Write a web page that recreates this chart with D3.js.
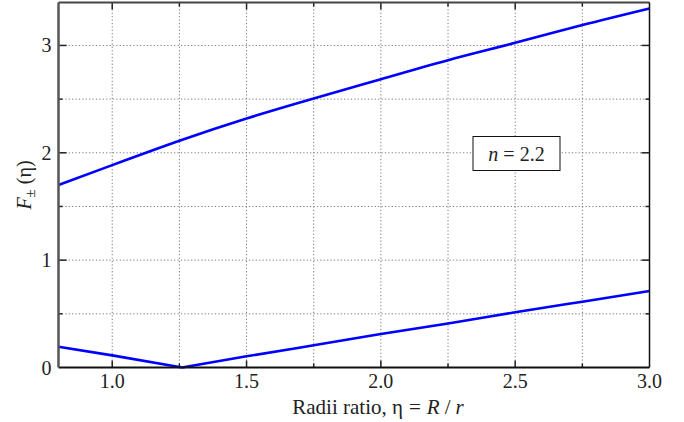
<!DOCTYPE html>
<html lang="en">
<head>
<meta charset="UTF-8">
<title>F± (η) vs radii ratio</title>
<style>
    body { margin: 0; background: #fff; }
    svg text { font-family: "Liberation Serif", Tinos, "Times New Roman", "DejaVu Serif", serif; }
    .grid line { stroke: #777; stroke-width: 1; stroke-dasharray: 1.2 2.2; }
    .tick-label { font-size: 20px; fill: #222; }
    .curve { fill: none; stroke: #0000ff; stroke-width: 2.6px; }
</style>
</head>
<body>
<svg width="684" height="422"></svg>
<script src="https://d3js.org/d3.v7.min.js"></script>
<script>
    // values
    const etaUpper = [0.8, 1.0, 1.25, 1.5, 1.75, 2.0, 2.25, 2.5, 2.75, 3.0];
    const fPlus    = [1.70, 1.885, 2.112, 2.32, 2.506, 2.686, 2.863, 3.024, 3.19, 3.345];

    const etaLower = [0.8, 1.0, 1.26, 1.5, 1.75, 2.0, 2.25, 2.5, 2.75, 3.0];
    const fMinus   = [0.194, 0.113, 0.0, 0.104, 0.207, 0.312, 0.41, 0.514, 0.613, 0.712];

    const xTickLabels = [1.0, 1.5, 2.0, 2.5, 3.0];
    const yTickLabels = [0, 1, 2, 3];
    const legendText = "2.2";

    const width = 684, height = 422;
    const margin = {top: 2.5, right: 34.5, bottom: 54.5, left: 58.5};
    const iw = width - margin.left - margin.right;
    const ih = height - margin.top - margin.bottom;

    const svg = d3.select("svg");
    const g = svg.append("g").attr("transform", `translate(${margin.left},${margin.top})`);

    const x = d3.scaleLinear().domain([0.8, 3.0]).range([0, iw]);
    const y = d3.scaleLinear().domain([0, 3.4]).range([ih, 0]);

    const xGrid = d3.range(1.0, 3.0, 0.25);
    const yGrid = d3.range(0.5, 3.4, 0.5);

    // dotted grid
    const grid = g.append("g").attr("class", "grid");
    grid.selectAll(".gx").data(xGrid).join("line")
        .attr("x1", d => x(d)).attr("x2", d => x(d))
        .attr("y1", 0).attr("y2", ih);
    grid.selectAll(".gy").data(yGrid).join("line")
        .attr("x1", 0).attr("x2", iw)
        .attr("y1", d => y(d)).attr("y2", d => y(d));

    // tick marks (inward, both sides)
    const ticks = g.append("g").attr("stroke", "#222").attr("stroke-width", 1.5);
    xGrid.forEach(d => {
        const len = Math.abs(d * 2 - Math.round(d * 2)) < 1e-6 ? 7 : 4;
        ticks.append("line").attr("x1", x(d)).attr("x2", x(d)).attr("y1", ih).attr("y2", ih - len);
        ticks.append("line").attr("x1", x(d)).attr("x2", x(d)).attr("y1", 0).attr("y2", len);
    });
    yGrid.forEach(d => {
        const len = Math.abs(d - Math.round(d)) < 1e-6 ? 8 : 4;
        ticks.append("line").attr("y1", y(d)).attr("y2", y(d)).attr("x1", 0).attr("x2", len);
        ticks.append("line").attr("y1", y(d)).attr("y2", y(d)).attr("x1", iw).attr("x2", iw - len);
    });

    // curves
    const upper = etaUpper.map((e, i) => [e, fPlus[i]]);
    const lower = etaLower.map((e, i) => [e, fMinus[i]]);
    const lineSmooth = d3.line().x(d => x(d[0])).y(d => y(d[1])).curve(d3.curveNatural);
    const lineStraight = d3.line().x(d => x(d[0])).y(d => y(d[1]));

    g.append("path").attr("class", "curve").attr("d", lineSmooth(upper));
    g.append("path").attr("class", "curve")
        .attr("d", lineStraight(lower.slice(0, 3)));
    g.append("path").attr("class", "curve")
        .attr("d", lineSmooth(lower.slice(2)));

    // frame
    g.append("line").attr("x1", 0).attr("x2", iw).attr("y1", 0).attr("y2", 0)
        .attr("stroke", "#444").attr("stroke-width", 2);
    g.append("line").attr("x1", iw).attr("x2", iw).attr("y1", 0).attr("y2", ih)
        .attr("stroke", "#111").attr("stroke-width", 1.5);
    g.append("line").attr("x1", 0).attr("x2", iw).attr("y1", ih).attr("y2", ih)
        .attr("stroke", "#111").attr("stroke-width", 2);
    g.append("line").attr("x1", 0).attr("x2", 0).attr("y1", 0).attr("y2", ih)
        .attr("stroke", "#555").attr("stroke-width", 2.5);

    // tick labels
    g.selectAll(".xl").data(xTickLabels).join("text")
        .attr("class", "tick-label")
        .attr("x", d => x(d)).attr("y", ih + 20)
        .attr("text-anchor", "middle")
        .text(d => d.toFixed(1));
    g.selectAll(".yl").data(yTickLabels).join("text")
        .attr("class", "tick-label")
        .attr("x", -7).attr("y", d => y(d) + 7)
        .attr("text-anchor", "end")
        .text(d => d);

    // axis titles
    const xt = svg.append("text")
        .attr("x", 378).attr("y", 414)
        .attr("text-anchor", "middle")
        .attr("font-size", 21).attr("fill", "#222");
    xt.append("tspan").text("Radii ratio, η");
    xt.append("tspan").attr("dx", 6).text("=");
    xt.append("tspan").attr("dx", 6).attr("font-style", "italic").text("R");
    xt.append("tspan").attr("dx", 5).text("/");
    xt.append("tspan").attr("dx", 5).attr("font-style", "italic").text("r");

    const yt = svg.append("text")
        .attr("transform", `translate(31,${margin.top + ih / 2}) rotate(-90)`)
        .attr("text-anchor", "middle")
        .attr("font-size", 20).attr("fill", "#222");
    yt.append("tspan").attr("font-style", "italic").text("F");
    yt.append("tspan").attr("font-size", 15).attr("dy", 4).text("±");
    yt.append("tspan").attr("dy", -4).text(" (η)");

    // legend box
    const lg = svg.append("g").attr("transform", "translate(473,136.5)");
    lg.append("rect").attr("width", 87).attr("height", 34)
        .attr("fill", "#fff").attr("stroke", "#111").attr("stroke-width", 1);
    const lt = lg.append("text").attr("x", 43.5).attr("y", 24)
        .attr("text-anchor", "middle").attr("font-size", 20).attr("fill", "#222");
    lt.append("tspan").attr("font-style", "italic").text("n");
    lt.append("tspan").attr("dx", 5).text("=");
    lt.append("tspan").attr("dx", 5).text(legendText);
</script>
</body>
</html>
